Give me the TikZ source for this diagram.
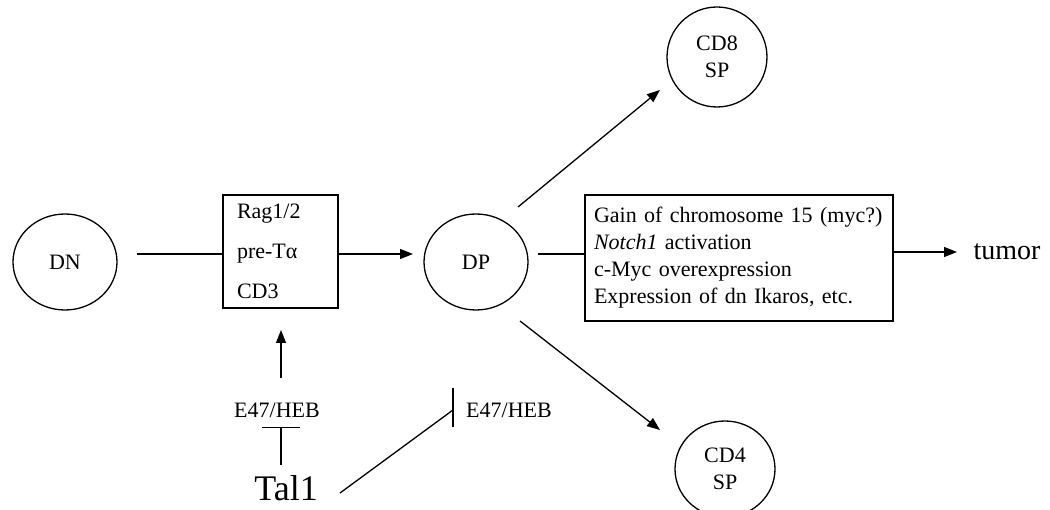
\documentclass[tikz,border=0pt]{standalone}
\usepackage{fontspec}
\setmainfont{Liberation Serif}
\usetikzlibrary{shapes.geometric,arrows.meta}
\begin{document}
\begin{tikzpicture}[x=1pt,y=-1pt,
  cell/.style={ellipse,draw,line width=1.3pt,minimum width=104pt,minimum height=96pt,inner sep=0pt,font=\fontsize{22}{27}\selectfont,align=center},
  genebox/.style={draw,line width=1.3pt,rectangle,align=left,inner ysep=0pt},
  conn/.style={line width=1.3pt},
  arr/.style={conn,-{Triangle[length=13pt,width=10pt]}},
  inh/.style={conn,-{Bar[width=38pt,line width=1.3pt]}},
  lbl/.style={font=\fontsize{22}{27}\selectfont,inner sep=0pt}]
\useasboundingbox (0,0) rectangle (1050,510);

% cells
\node[cell] (DN) at (65,262) {DN};
\node[cell] (DP) at (476,262) {DP};
\node[cell,minimum width=100pt,minimum height=100pt] (CD8) at (717,57) {CD8\\SP};
\node[cell,minimum width=100pt,minimum height=96pt] (CD4) at (725,469) {CD4\\SP};

% boxes
\node[genebox,text width=87pt,inner xsep=14pt,minimum height=113pt,font=\fontsize{22}{40}\selectfont] (box1) at (280.5,251.5) {Rag1/2\\pre-Tα\\CD3};
\node[genebox,text width=290pt,inner xsep=9pt,minimum height=126pt,font=\fontsize{22}{27}\selectfont] (box2) at (739,258) {Gain of chromosome 15 (myc?)\\\textit{Notch1} activation\\c-Myc overexpression\\Expression of dn Ikaros, etc.};

% labels
\node[font=\fontsize{28}{30}\selectfont,inner sep=0pt] (tumor) at (1007,252) {tumor};
\node[lbl] (E1) at (277,410) {E47/HEB};
\node[lbl,anchor=west] (E2) at (466,410) {E47/HEB};
\node[font=\fontsize{36}{40}\selectfont,inner sep=0pt] (Tal) at (286,488) {Tal1};

% connector end points
\coordinate (dnout) at (137,254);
\coordinate (dpin) at (413,254);
\coordinate (dpout) at (538,254);
\coordinate (tumorin) at (957,252);
\coordinate (up8s) at (518,207);
\coordinate (up8e) at (660,90);
\coordinate (dn4s) at (520,321);
\coordinate (dn4e) at (660,430);
\coordinate (e1up) at (281,378);
\coordinate (box1in) at (281,330);
\coordinate (talup) at (281,465);
\coordinate (e1bar) at (281,427);
\coordinate (talout) at (340,493);
\coordinate (barmid) at (453,410);
\coordinate (bartop) at (453,388);
\coordinate (barbot) at (453,427);

% connectors
\draw[conn] (dnout) -- (dnout -| box1.west);
\draw[arr] (dpin -| box1.east) -- (dpin);
\draw[arr] (up8s) -- (up8e);
\draw[arr] (dn4s) -- (dn4e);
\draw[conn] (dpout) -- (dpout -| box2.west);
\draw[arr] (tumorin -| box2.east) -- (tumorin);
\draw[arr] (e1up) -- (box1in);
\draw[inh] (talup) -- (e1bar);
\draw[conn] (talout) -- (barmid);
\draw[conn] (bartop) -- (barbot);
\end{tikzpicture}
\end{document}
